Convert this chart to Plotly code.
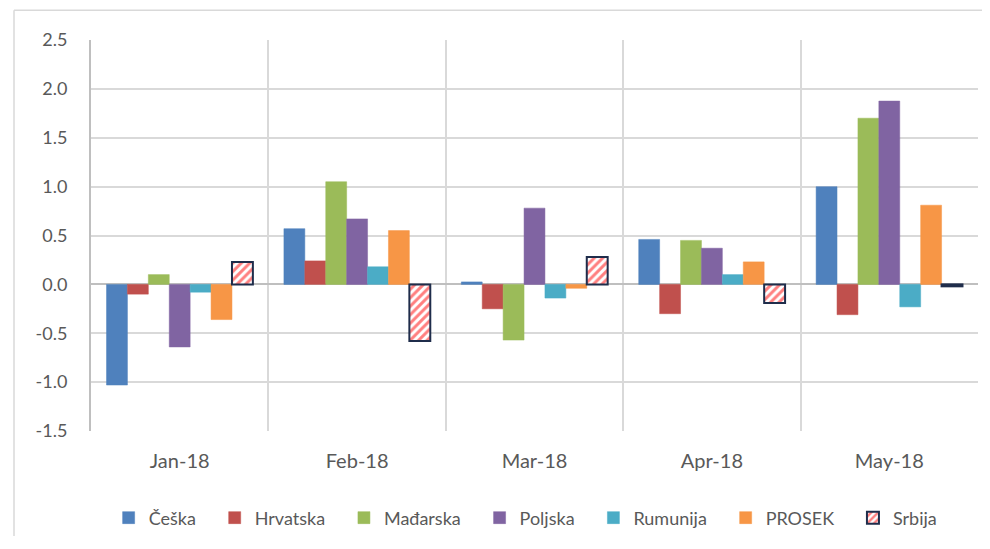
import plotly.graph_objects as go

months = ["Jan-18", "Feb-18", "Mar-18", "Apr-18", "May-18"]
series_names = ["Češka", "Hrvatska", "Mađarska", "Poljska", "Rumunija", "PROSEK", "Srbija"]
ceska = [-1.03, 0.57, 0.025, 0.46, 1.00]
hrvatska = [-0.10, 0.24, -0.25, -0.30, -0.31]
madjarska = [0.10, 1.05, -0.57, 0.45, 1.70]
poljska = [-0.64, 0.67, 0.78, 0.37, 1.875]
rumunija = [-0.08, 0.18, -0.14, 0.10, -0.23]
prosek = [-0.36, 0.55, -0.04, 0.23, 0.81]
srbija = [0.23, -0.58, 0.28, -0.19, -0.02]
y_ticks = [2.5, 2.0, 1.5, 1.0, 0.5, 0.0, -0.5, -1.0, -1.5]

values = [ceska, hrvatska, madjarska, poljska, rumunija, prosek, srbija]
colors = ["#4F81BD", "#C0504D", "#9BBB59", "#8064A2", "#4BACC6", "#F79646", "#FFFFFF"]

FONT = "Lato"
PAD = "\u00a0" * 3
fig = go.Figure()
for i, (name, vals, col) in enumerate(zip(series_names, values, colors)):
    label = name if i == len(series_names) - 1 else name + PAD
    if name == "Srbija":
        marker = dict(color="white", line=dict(color="#1F2D4B", width=2),
                      pattern=dict(shape="/", fgcolor="#FF0000", bgcolor="white",
                                   size=6, solidity=0.5))
    else:
        marker = dict(color=col, line=dict(color=col, width=0.5))
    fig.add_trace(go.Bar(name=label, x=months, y=vals, marker=marker))

# page has an 8px body margin; figure is sized so the page does not overflow
W, H = 974, 533
L, T = 83, 32
PR, PB = 970, 427
fig.update_layout(
    width=W, height=H,
    barmode="group", bargap=0.175, bargroupgap=0,
    plot_bgcolor="white", paper_bgcolor="white",
    margin=dict(l=L, r=W - PR, t=T, b=H - PB),
    font=dict(family=FONT, size=16, color="#595959"),
    showlegend=True,
    legend=dict(orientation="h", x=0.49, xanchor="center", y=-0.175, yanchor="top",
                font=dict(family=FONT, size=18, color="#595959"),
                traceorder="normal", itemwidth=30),
    xaxis=dict(type="category", tickson="boundaries", showgrid=True,
               gridcolor="#D9D9D9", gridwidth=1.5, ticks="", showline=False,
               ticklabelstandoff=16,
               tickfont=dict(family=FONT, size=20, color="#595959")),
    yaxis=dict(range=[-1.5, 2.5], tickvals=y_ticks,
               ticktext=[f"{v:.1f}" for v in y_ticks],
               showgrid=True, gridcolor="#D9D9D9", gridwidth=1.5,
               zeroline=True, zerolinecolor="#BFBFBF", zerolinewidth=2,
               showline=True, linecolor="#BFBFBF", linewidth=2,
               ticks="", ticklabelstandoff=18,
               tickfont=dict(family=FONT, size=18, color="#595959")),
)

ph = PB - T
pw = PR - L
# outer chart border: only top and left edges are visible in the frame
fig.add_shape(type="line", xref="paper", yref="paper",
              x0=(6 - L) / pw, x1=(W - L) / pw,
              y0=(PB - 2) / ph, y1=(PB - 2) / ph,
              line=dict(color="#D9D9D9", width=1.5), layer="below")
fig.add_shape(type="line", xref="paper", yref="paper",
              x0=(6 - L) / pw, x1=(6 - L) / pw,
              y0=(PB - H) / ph, y1=(PB - 2) / ph,
              line=dict(color="#D9D9D9", width=1.5), layer="below")

fig.write_html("out.html")
